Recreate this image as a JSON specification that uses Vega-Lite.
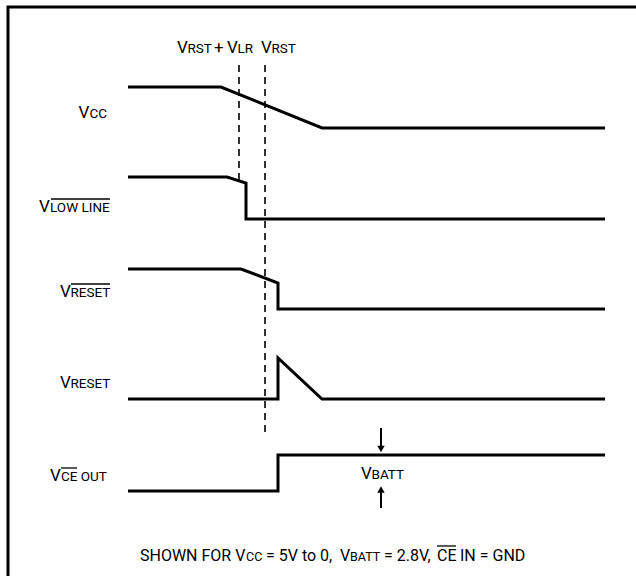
{
  "$schema": "https://vega.github.io/schema/vega-lite/v6.json",
  "autosize": "none",
  "width": 636,
  "height": 576,
  "padding": 0,
  "background": "white",
  "config": {"view": {"stroke": null}, "axis": null},
  "datasets": {
    "waves": [
      {"s": "border", "i": 0, "x": 8, "y": 576},
      {"s": "border", "i": 1, "x": 8, "y": 7},
      {"s": "border", "i": 2, "x": 636, "y": 7},
      {"s": "vcc", "i": 0, "x": 128, "y": 87},
      {"s": "vcc", "i": 1, "x": 221, "y": 87},
      {"s": "vcc", "i": 2, "x": 322, "y": 128},
      {"s": "vcc", "i": 3, "x": 605, "y": 128},
      {"s": "low", "i": 0, "x": 128, "y": 177},
      {"s": "low", "i": 1, "x": 227, "y": 177},
      {"s": "low", "i": 2, "x": 246, "y": 183},
      {"s": "low", "i": 3, "x": 246, "y": 219},
      {"s": "low", "i": 4, "x": 605, "y": 219},
      {"s": "resetbar", "i": 0, "x": 128, "y": 269},
      {"s": "resetbar", "i": 1, "x": 241, "y": 269},
      {"s": "resetbar", "i": 2, "x": 278, "y": 283},
      {"s": "resetbar", "i": 3, "x": 278, "y": 309},
      {"s": "resetbar", "i": 4, "x": 605, "y": 309},
      {"s": "reset", "i": 0, "x": 128, "y": 399},
      {"s": "reset", "i": 1, "x": 278, "y": 399},
      {"s": "reset", "i": 2, "x": 278, "y": 358},
      {"s": "reset", "i": 3, "x": 322, "y": 399},
      {"s": "reset", "i": 4, "x": 605, "y": 399},
      {"s": "ce", "i": 0, "x": 128, "y": 491},
      {"s": "ce", "i": 1, "x": 278, "y": 491},
      {"s": "ce", "i": 2, "x": 278, "y": 455},
      {"s": "ce", "i": 3, "x": 605, "y": 455}
    ],
    "dashes": [
      {"x": 239, "y": 65, "y2": 185},
      {"x": 265, "y": 65, "y2": 435}
    ],
    "shafts": [
      {"x": 381, "y": 428, "y2": 446},
      {"x": 381, "y": 491, "y2": 508}
    ],
    "heads": [
      {"x": 381, "y": 449, "dir": "down"},
      {"x": 381, "y": 489.5, "dir": "up"}
    ],
    "overlines": [
      {"x": 51, "x2": 110, "y": 199},
      {"x": 71, "x2": 110, "y": 284},
      {"x": 61, "x2": 77, "y": 468},
      {"x": 437, "x2": 456, "y": 546}
    ],
    "labels": [
      {"t": "V", "x": 177, "y": 53, "k": "main"},
      {"t": "RST", "x": 187.5, "y": 53, "k": "sub"},
      {"t": "+", "x": 214, "y": 53, "k": "main"},
      {"t": "V", "x": 227, "y": 53, "k": "main"},
      {"t": "LR", "x": 237.5, "y": 53, "k": "sub"},
      {"t": "V", "x": 261, "y": 53, "k": "main"},
      {"t": "RST", "x": 271.5, "y": 53, "k": "sub"},
      {"t": "V", "x": 78.5, "y": 118, "k": "main"},
      {"t": "CC", "x": 89.5, "y": 118, "k": "sub"},
      {"t": "V", "x": 39, "y": 212, "k": "main"},
      {"t": "LOW LINE", "x": 50, "y": 212, "k": "sub"},
      {"t": "V", "x": 60, "y": 297, "k": "main"},
      {"t": "RESET", "x": 70.5, "y": 297, "k": "sub"},
      {"t": "V", "x": 60, "y": 388, "k": "main"},
      {"t": "RESET", "x": 70.5, "y": 388, "k": "sub"},
      {"t": "V", "x": 50, "y": 481, "k": "main"},
      {"t": "CE OUT", "x": 61, "y": 481, "k": "sub"},
      {"t": "V", "x": 361, "y": 479, "k": "main"},
      {"t": "BATT", "x": 371.5, "y": 479, "k": "sub"}
    ],
    "caption": [
      {"t": "SHOWN FOR V", "x": 140, "y": 561, "k": "main"},
      {"t": "CC", "x": 246, "y": 561, "k": "sub"},
      {"t": "= 5V to 0,", "x": 266, "y": 561, "k": "main"},
      {"t": "V", "x": 340, "y": 561, "k": "main"},
      {"t": "BATT", "x": 350, "y": 561, "k": "sub"},
      {"t": "= 2.8V,", "x": 384, "y": 561, "k": "main"},
      {"t": "CE", "x": 437, "y": 561, "k": "main"},
      {"t": "IN = GND", "x": 460, "y": 561, "k": "main"}
    ]
  },
  "layer": [
    {
      "data": {"name": "waves"},
      "mark": {"type": "line", "color": "black", "strokeWidth": 3, "strokeJoin": "miter", "strokeCap": "butt"},
      "encoding": {
        "x": {"field": "x", "type": "quantitative", "scale": {"domain": [0, 636], "nice": false, "zero": false}, "axis": null},
        "y": {"field": "y", "type": "quantitative", "scale": {"domain": [0, 576], "nice": false, "zero": false, "reverse": true}, "axis": null},
        "detail": {"field": "s"},
        "order": {"field": "i", "type": "quantitative"}
      }
    },
    {
      "data": {"name": "dashes"},
      "mark": {"type": "rule", "color": "black", "strokeWidth": 1.6, "strokeDash": [7, 5]},
      "encoding": {
        "x": {"field": "x", "type": "quantitative"},
        "y": {"field": "y", "type": "quantitative"},
        "y2": {"field": "y2"}
      }
    },
    {
      "data": {"name": "shafts"},
      "mark": {"type": "rule", "color": "black", "strokeWidth": 2},
      "encoding": {
        "x": {"field": "x", "type": "quantitative"},
        "y": {"field": "y", "type": "quantitative"},
        "y2": {"field": "y2"}
      }
    },
    {
      "data": {"name": "heads"},
      "mark": {"type": "point", "filled": true, "color": "black", "size": 55, "opacity": 1},
      "encoding": {
        "x": {"field": "x", "type": "quantitative"},
        "y": {"field": "y", "type": "quantitative"},
        "shape": {"field": "dir", "type": "nominal", "scale": {"domain": ["down", "up"], "range": ["triangle-down", "triangle-up"]}, "legend": null}
      }
    },
    {
      "data": {"name": "overlines"},
      "mark": {"type": "rule", "color": "black", "strokeWidth": 1.3},
      "encoding": {
        "x": {"field": "x", "type": "quantitative"},
        "x2": {"field": "x2"},
        "y": {"field": "y", "type": "quantitative"}
      }
    },
    {
      "data": {"name": "labels"},
      "transform": [{"filter": "datum.k === 'main'"}],
      "mark": {"type": "text", "align": "left", "baseline": "alphabetic", "font": "Roboto", "fontSize": 17, "color": "black"},
      "encoding": {
        "x": {"field": "x", "type": "quantitative"},
        "y": {"field": "y", "type": "quantitative"},
        "text": {"field": "t"}
      }
    },
    {
      "data": {"name": "labels"},
      "transform": [{"filter": "datum.k === 'sub'"}],
      "mark": {"type": "text", "align": "left", "baseline": "alphabetic", "font": "Roboto", "fontSize": 13.5, "color": "black"},
      "encoding": {
        "x": {"field": "x", "type": "quantitative"},
        "y": {"field": "y", "type": "quantitative"},
        "text": {"field": "t"}
      }
    },
    {
      "data": {"name": "caption"},
      "transform": [{"filter": "datum.k === 'main'"}],
      "mark": {"type": "text", "align": "left", "baseline": "alphabetic", "font": "Roboto", "fontSize": 16, "color": "black"},
      "encoding": {
        "x": {"field": "x", "type": "quantitative"},
        "y": {"field": "y", "type": "quantitative"},
        "text": {"field": "t"}
      }
    },
    {
      "data": {"name": "caption"},
      "transform": [{"filter": "datum.k === 'sub'"}],
      "mark": {"type": "text", "align": "left", "baseline": "alphabetic", "font": "Roboto", "fontSize": 12.5, "color": "black"},
      "encoding": {
        "x": {"field": "x", "type": "quantitative"},
        "y": {"field": "y", "type": "quantitative"},
        "text": {"field": "t"}
      }
    }
  ]
}
